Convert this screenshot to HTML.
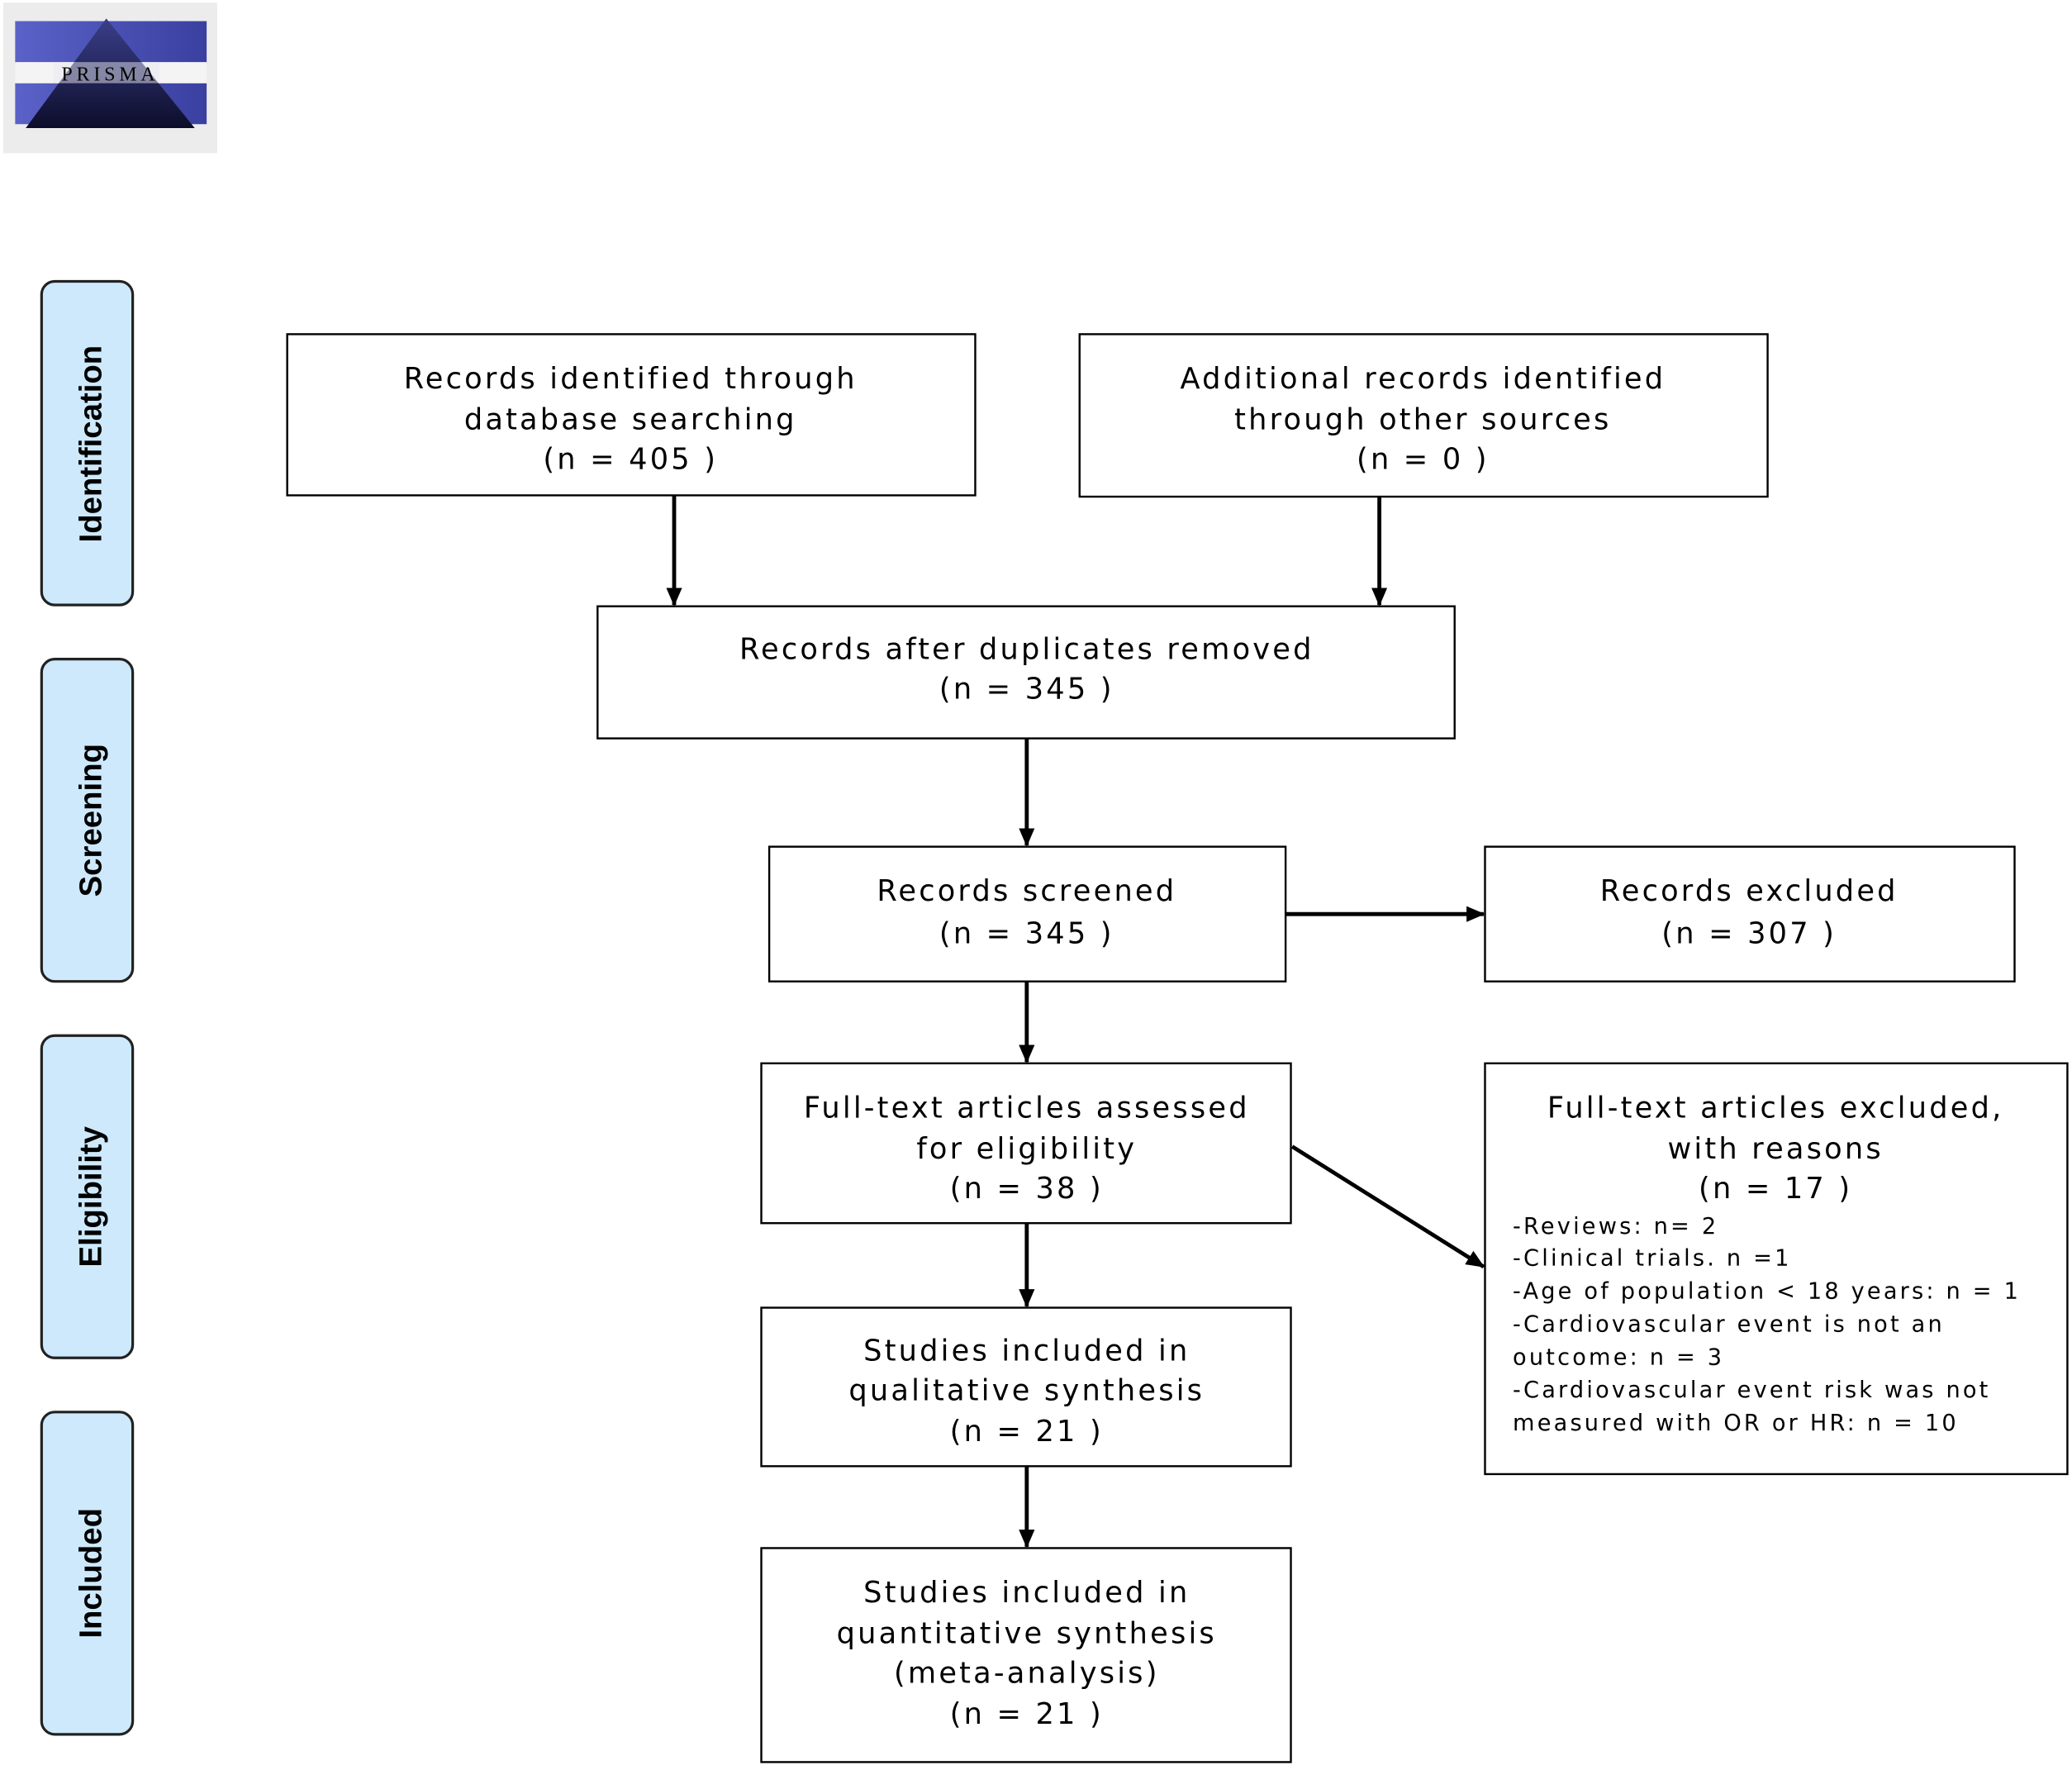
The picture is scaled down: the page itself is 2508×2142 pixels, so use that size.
<!DOCTYPE html>
<html><head><meta charset="utf-8"><style>
html,body{margin:0;padding:0;background:#fff;}
svg{display:block;}
text{font-family:"DejaVu Sans","Liberation Sans",sans-serif;fill:#000;}
.m{letter-spacing:2px;}
.s{letter-spacing:2px;}
</style></head><body>
<svg width="2508" height="2142" viewBox="0 0 1568 1340" xmlns="http://www.w3.org/2000/svg">
<defs>
<linearGradient id="tri" x1="0" y1="0" x2="0" y2="1"><stop offset="0" stop-color="#3a3f8a"/><stop offset="1" stop-color="#0d0d2a"/></linearGradient>
<linearGradient id="band" x1="0" y1="0" x2="1" y2="0"><stop offset="0" stop-color="#5a62c8"/><stop offset="1" stop-color="#3a40a0"/></linearGradient>
<marker id="ah" markerWidth="14" markerHeight="12" refX="13" refY="6" orient="auto" markerUnits="userSpaceOnUse"><path d="M0,0 L14,6 L0,12 z" fill="#000"/></marker>
</defs>
<rect x="2" y="2" width="162" height="114" fill="#ececec"/>
<rect x="11" y="16" width="145" height="32" fill="url(#band)"/>
<rect x="11" y="63" width="145" height="31" fill="url(#band)"/>
<rect x="11" y="47" width="145" height="16" fill="#f4f4f4"/>
<polygon points="80,14 147,97 19,97" fill="url(#tri)"/>
<rect x="40" y="47" width="80" height="16" fill="#e8e8f0" opacity="0.5"/>
<text x="83" y="61" font-size="15" text-anchor="middle" fill="#999" style="font-family:'Liberation Serif',serif;letter-spacing:3px">PRISMA</text>

<g fill="#cde9fb" stroke="#222" stroke-width="2">
<rect x="31" y="213" width="69" height="245" rx="10"/>
<rect x="31" y="499" width="69" height="244" rx="10"/>
<rect x="31" y="784" width="69" height="244" rx="10"/>
<rect x="31" y="1069" width="69" height="244" rx="10"/>
</g>
<g font-size="24" font-weight="bold" text-anchor="middle">
<text transform="translate(76,336) rotate(-90)" style="font-family:'Liberation Sans Narrow','Liberation Sans',sans-serif">Identification</text>
<text transform="translate(76,621) rotate(-90)" style="font-family:'Liberation Sans Narrow','Liberation Sans',sans-serif">Screening</text>
<text transform="translate(76,906) rotate(-90)" style="font-family:'Liberation Sans Narrow','Liberation Sans',sans-serif">Eligibility</text>
<text transform="translate(76,1191) rotate(-90)" style="font-family:'Liberation Sans Narrow','Liberation Sans',sans-serif">Included</text>
</g>

<g fill="#fff" stroke="#000" stroke-width="1.5">
<rect x="217" y="253" width="521" height="122"/>
<rect x="817" y="253" width="521" height="123"/>
<rect x="452" y="459" width="649" height="100"/>
<rect x="582" y="641" width="391" height="102"/>
<rect x="1124" y="641" width="401" height="102"/>
<rect x="576" y="805" width="401" height="121"/>
<rect x="1124" y="805" width="441" height="311"/>
<rect x="576" y="990" width="401" height="120"/>
<rect x="576" y="1172" width="401" height="162"/>
</g>

<g stroke="#000" stroke-width="3" marker-end="url(#ah)">
<line x1="510" y1="375" x2="510" y2="458"/>
<line x1="1044" y1="376" x2="1044" y2="458"/>
<line x1="777" y1="559" x2="777" y2="640"/>
<line x1="973" y1="692" x2="1123" y2="692"/>
<line x1="777" y1="743" x2="777" y2="804"/>
<line x1="978" y1="868" x2="1123" y2="959"/>
<line x1="777" y1="926" x2="777" y2="989"/>
<line x1="777" y1="1110" x2="777" y2="1171"/>
</g>

<g font-size="22" text-anchor="middle" class="m">
<text x="477" y="294">Records identified through</text>
<text x="477" y="325">database searching</text>
<text x="477" y="355">(n = 405  )</text>
<text x="1077" y="294">Additional records identified</text>
<text x="1077" y="325">through other sources</text>
<text x="1077" y="355">(n =  0 )</text>
<text x="777" y="499">Records after duplicates removed</text>
<text x="777" y="529">(n = 345  )</text>
<text x="777" y="682">Records screened</text>
<text x="777" y="714">(n = 345   )</text>
<text x="1324" y="682">Records excluded</text>
<text x="1324" y="714">(n = 307 )</text>
<text x="777" y="846">Full-text articles assessed</text>
<text x="777" y="877">for eligibility</text>
<text x="777" y="907">(n =  38 )</text>
<text x="1344" y="846">Full-text articles excluded,</text>
<text x="1344" y="877">with reasons</text>
<text x="1344" y="907">(n =  17 )</text>
<text x="777" y="1030">Studies included in</text>
<text x="777" y="1060">qualitative synthesis</text>
<text x="777" y="1091">(n = 21  )</text>
<text x="777" y="1213">Studies included in</text>
<text x="777" y="1244">quantitative synthesis</text>
<text x="777" y="1274">(meta-analysis)</text>
<text x="777" y="1305">(n =  21 )</text>
</g>
<g font-size="17" class="s">
<text x="1145" y="934">-Reviews: n= 2</text>
<text x="1145" y="958">-Clinical trials. n =1</text>
<text x="1145" y="983">-Age of population &lt; 18 years: n = 1</text>
<text x="1145" y="1008">-Cardiovascular event is not an</text>
<text x="1145" y="1033">outcome: n = 3</text>
<text x="1145" y="1058">-Cardiovascular event risk was not</text>
<text x="1145" y="1083">measured with OR or HR: n = 10</text>
</g>
</svg>
</body></html>
